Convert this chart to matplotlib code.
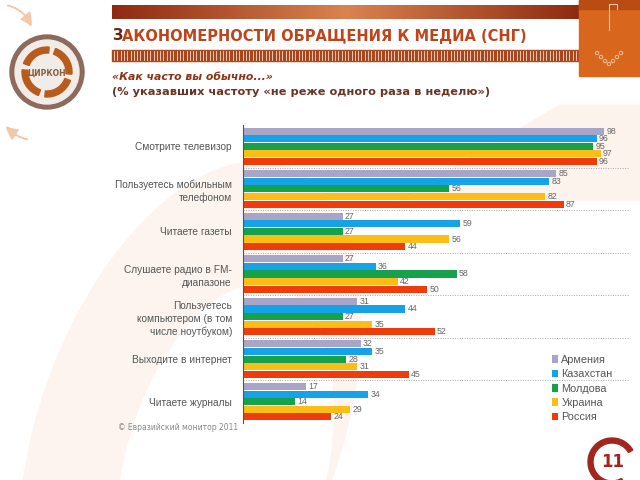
import numpy as np
import matplotlib.pyplot as plt
from matplotlib.patches import Rectangle, Circle, Wedge, Polygon, Ellipse, FancyArrowPatch
from matplotlib.colors import LinearSegmentedColormap

categories = ['Смотрите телевизор', 'Пользуетесь мобильным\nтелефоном', 'Читаете газеты',
              'Слушаете радио в FM-\nдиапазоне', 'Пользуетесь\nкомпьютером (в том\nчисле ноутбуком)',
              'Выходите в интернет', 'Читаете журналы']
countries = ['Армения', 'Казахстан', 'Молдова', 'Украина', 'Россия']
colors = ['#a9a5c9', '#16a2e6', '#17a14c', '#fbbd16', '#ef3c0c']

armenia = [98, 85, 27, 27, 31, 32, 17]
kazakhstan = [96, 83, 59, 36, 44, 35, 34]
moldova = [95, 56, 27, 58, 27, 28, 14]
ukraine = [97, 82, 56, 42, 35, 31, 29]
russia = [96, 87, 44, 50, 52, 45, 24]
series = [armenia, kazakhstan, moldova, ukraine, russia]

fig = plt.figure(figsize=(6.4, 4.8), dpi=100)
renderer = fig.canvas.get_renderer()

# decorations in pixel coordinates
bg = fig.add_axes([0, 0, 1, 1], zorder=0)
bg.set_xlim(0, 640)
bg.set_ylim(480, 0)
bg.axis('off')

# faint background swooshes
bg.add_patch(Ellipse((190, 430), 300, 560, angle=20, color='#fdf4ef', zorder=0))
bg.add_patch(Ellipse((225, 470), 200, 380, angle=15, color='white', zorder=0))
bg.add_patch(Polygon([[400, 200], [560, 105], [640, 105], [640, 200], [520, 200]],
                     closed=True, color='#fdf3ed', zorder=0))

# top gradient bar
grad = np.linspace(0, 1, 256)
grad = np.vstack([np.abs(grad - 0.5) * 2] * 2)
cm = LinearSegmentedColormap.from_list('br', ['#d9834f', '#8e2a12'])
bg.imshow(grad, cmap=cm, extent=[112, 580, 19, 5], aspect='auto', zorder=1)

# striped bar
bg.add_patch(Rectangle((112, 50), 468, 11, color='#a8481f', zorder=1))
for xs in np.arange(114, 579, 3.3):
    bg.plot([xs, xs], [51, 60], color='#f3d9c8', lw=0.6, zorder=2)

# right orange box
bg.add_patch(Rectangle((579, 0), 61, 76, color='#d8661c', zorder=1))
bg.add_patch(Rectangle((579, 0), 61, 9, color='#b84c12', zorder=2))
bg.plot([609, 609, 617, 617], [30, 4, 4, 9], color='#f6c49a', lw=0.8, zorder=3)
for px, py in [(597, 53), (601, 57), (605, 61), (609, 64), (613, 61), (617, 57), (621, 53)]:
    bg.add_patch(Circle((px, py), 1.7, fill=False, ec='#f6c49a', lw=0.7, zorder=3))

# logo
bg.add_patch(Circle((47, 72), 37, color='#8c6a5c', zorder=1))
bg.add_patch(Circle((47, 72), 32, color='#f2ece8', zorder=2))
for a in [20, 110, 200, 290]:
    bg.add_patch(Wedge((47, 72), 25, a, a + 75, width=6, color='#b85c1c', zorder=3))
bg.text(47, 73, 'ЦИРКОН', ha='center', va='center', fontsize=5.5, color='#8a5a3a',
        fontweight='bold', zorder=4)
bg.add_patch(FancyArrowPatch((5, 5), (32, 28), connectionstyle='arc3,rad=-0.3',
                             arrowstyle='simple,head_width=8,head_length=8',
                             color='#f2c8a6', zorder=1))
bg.add_patch(FancyArrowPatch((30, 140), (5, 125), connectionstyle='arc3,rad=-0.2',
                             arrowstyle='simple,head_width=8,head_length=8',
                             color='#f2c8a6', zorder=1))

# page number
bg.add_patch(Wedge((612, 462), 24, 60, 330, width=5, color='#a2261e', zorder=2))
bg.text(613, 462, '11', ha='center', va='center', fontsize=12, fontweight='bold',
        color='#a2261e', zorder=3)

# titles
t1 = bg.text(112, 36, 'З', ha='left', va='center', fontsize=10.5, fontweight='bold',
             color='#6b2410', zorder=3)
x2 = 112 + t1.get_window_extent(renderer).width
bg.text(x2, 36, 'АКОНОМЕРНОСТИ ОБРАЩЕНИЯ К МЕДИА (СНГ)', ha='left', va='center',
        fontsize=10.5, fontweight='bold', color='#c0431a', zorder=3)
bg.text(112, 77, '«Как часто вы обычно...»', ha='left', va='center', fontsize=7.8,
        style='italic', fontweight='bold', color='#8c3414', zorder=3)
bg.text(112, 92, '(% указавших частоту «не реже одного раза в неделю»)', ha='left',
        va='center', fontsize=8.2, fontweight='bold', color='#6b3320', zorder=3)
bg.text(118, 428, '© Евразийский монитор 2011', ha='left', va='center', fontsize=5.5,
        color='#888888', zorder=3)

# chart
ax = fig.add_axes([243 / 640, 1 - 423 / 480, 387 / 640, 298 / 480], zorder=2)
ax.patch.set_alpha(0)
n = len(categories)
y = np.arange(n) + 0.5
step = 0.178
h = 0.165
for j, (vals, c, name) in enumerate(zip(series, colors, countries)):
    pos = y + (j - 2) * step
    ax.barh(pos, vals, height=h, color=c, label=name, zorder=2)
    for p, v in zip(pos, vals):
        ax.text(v + 0.6, p, str(v), va='center', ha='left', fontsize=6.3,
                color='#666666', family='Liberation Sans')

for k in range(1, n + 1):
    ax.axhline(k, color='#aaaaaa', lw=0.7, ls=(0, (1, 1.5)), zorder=1)

ax.set_xlim(0, 105)
ax.set_ylim(n, 0)
ax.set_xticks([])
ax.set_yticks(y)
ax.set_yticklabels(categories, fontsize=7.3, color='#555555', family='Liberation Sans',
                   linespacing=1.35)
ax.tick_params(axis='y', length=0, pad=8)
for s in ['top', 'right', 'bottom']:
    ax.spines[s].set_visible(False)
ax.spines['left'].set_color('#555555')
ax.spines['left'].set_linewidth(0.8)

leg = ax.legend(loc='lower right', bbox_to_anchor=(0.98, -0.03), frameon=False,
                handlelength=0.6, handleheight=0.7, handletextpad=0.3,
                labelspacing=0.4, prop={'family': 'Liberation Sans', 'size': 7.8})
for t in leg.get_texts():
    t.set_color('#555555')

fig.savefig('out.png', dpi=100)
